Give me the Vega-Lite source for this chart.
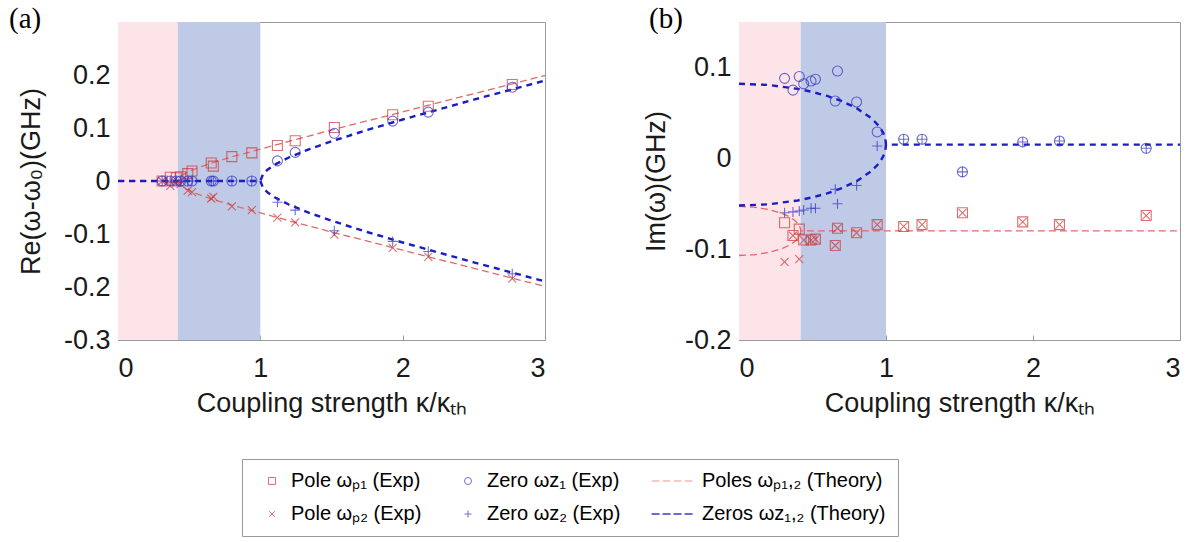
{
  "$schema": "https://vega.github.io/schema/vega-lite/v6.json",
  "background": "white",
  "padding": {"left": 8, "top": 4, "right": 5, "bottom": 0},
  "config": {
    "font": "Liberation Sans",
    "view": {"stroke": "#9a9a9a", "strokeWidth": 1},
    "axis": {
      "grid": false,
      "domainColor": "#9a9a9a",
      "tickColor": "#9a9a9a",
      "tickSize": -5,
      "labelFont": "Liberation Sans",
      "labelFontSize": 27,
      "labelColor": "#1a1a1a",
      "titleFont": "Liberation Sans",
      "titleFontSize": 27,
      "titleFontWeight": "normal",
      "titleColor": "#1a1a1a"
    }
  },
  "datasets": {
    "shade": [
      {"zone": "pt", "k1": 0, "k2": 0.42},
      {"zone": "mid", "k1": 0.42, "k2": 1.0}
    ],
    "theory": [
      {"p": "a", "c": "pole", "b": "up", "k": 0, "v": 0},
      {"p": "a", "c": "pole", "b": "up", "k": 0.42, "v": 0},
      {"p": "a", "c": "pole", "b": "up", "k": 0.43, "v": 0.0062},
      {"p": "a", "c": "pole", "b": "up", "k": 0.45, "v": 0.0108},
      {"p": "a", "c": "pole", "b": "up", "k": 0.5, "v": 0.0182},
      {"p": "a", "c": "pole", "b": "up", "k": 0.6, "v": 0.0287},
      {"p": "a", "c": "pole", "b": "up", "k": 0.7, "v": 0.0375},
      {"p": "a", "c": "pole", "b": "up", "k": 0.8, "v": 0.0456},
      {"p": "a", "c": "pole", "b": "up", "k": 1.0, "v": 0.0600},
      {"p": "a", "c": "pole", "b": "up", "k": 1.2, "v": 0.0748},
      {"p": "a", "c": "pole", "b": "up", "k": 1.5, "v": 0.0962},
      {"p": "a", "c": "pole", "b": "up", "k": 2.0, "v": 0.1305},
      {"p": "a", "c": "pole", "b": "up", "k": 2.5, "v": 0.1648},
      {"p": "a", "c": "pole", "b": "up", "k": 3.0, "v": 0.1990},
      {"p": "a", "c": "pole", "b": "dn", "k": 0.42, "v": 0},
      {"p": "a", "c": "pole", "b": "dn", "k": 0.43, "v": -0.0062},
      {"p": "a", "c": "pole", "b": "dn", "k": 0.45, "v": -0.0108},
      {"p": "a", "c": "pole", "b": "dn", "k": 0.5, "v": -0.0182},
      {"p": "a", "c": "pole", "b": "dn", "k": 0.6, "v": -0.0287},
      {"p": "a", "c": "pole", "b": "dn", "k": 0.7, "v": -0.0375},
      {"p": "a", "c": "pole", "b": "dn", "k": 0.8, "v": -0.0456},
      {"p": "a", "c": "pole", "b": "dn", "k": 1.0, "v": -0.0600},
      {"p": "a", "c": "pole", "b": "dn", "k": 1.2, "v": -0.0748},
      {"p": "a", "c": "pole", "b": "dn", "k": 1.5, "v": -0.0962},
      {"p": "a", "c": "pole", "b": "dn", "k": 2.0, "v": -0.1305},
      {"p": "a", "c": "pole", "b": "dn", "k": 2.5, "v": -0.1648},
      {"p": "a", "c": "pole", "b": "dn", "k": 3.0, "v": -0.1990},
      {"p": "a", "c": "zero", "b": "up", "k": 0, "v": 0},
      {"p": "a", "c": "zero", "b": "up", "k": 1.0, "v": 0},
      {"p": "a", "c": "zero", "b": "up", "k": 1.02, "v": 0.0135},
      {"p": "a", "c": "zero", "b": "up", "k": 1.05, "v": 0.0214},
      {"p": "a", "c": "zero", "b": "up", "k": 1.1, "v": 0.0307},
      {"p": "a", "c": "zero", "b": "up", "k": 1.2, "v": 0.0444},
      {"p": "a", "c": "zero", "b": "up", "k": 1.35, "v": 0.0608},
      {"p": "a", "c": "zero", "b": "up", "k": 1.5, "v": 0.0749},
      {"p": "a", "c": "zero", "b": "up", "k": 1.75, "v": 0.0962},
      {"p": "a", "c": "zero", "b": "up", "k": 2.0, "v": 0.1160},
      {"p": "a", "c": "zero", "b": "up", "k": 2.5, "v": 0.1535},
      {"p": "a", "c": "zero", "b": "up", "k": 3.0, "v": 0.1895},
      {"p": "a", "c": "zero", "b": "dn", "k": 1.0, "v": 0},
      {"p": "a", "c": "zero", "b": "dn", "k": 1.02, "v": -0.0135},
      {"p": "a", "c": "zero", "b": "dn", "k": 1.05, "v": -0.0214},
      {"p": "a", "c": "zero", "b": "dn", "k": 1.1, "v": -0.0307},
      {"p": "a", "c": "zero", "b": "dn", "k": 1.2, "v": -0.0444},
      {"p": "a", "c": "zero", "b": "dn", "k": 1.35, "v": -0.0608},
      {"p": "a", "c": "zero", "b": "dn", "k": 1.5, "v": -0.0749},
      {"p": "a", "c": "zero", "b": "dn", "k": 1.75, "v": -0.0962},
      {"p": "a", "c": "zero", "b": "dn", "k": 2.0, "v": -0.1160},
      {"p": "a", "c": "zero", "b": "dn", "k": 2.5, "v": -0.1535},
      {"p": "a", "c": "zero", "b": "dn", "k": 3.0, "v": -0.1895},
      {"p": "b", "c": "zero", "b": "up", "k": 0, "v": 0.082},
      {"p": "b", "c": "zero", "b": "up", "k": 0.2, "v": 0.0807},
      {"p": "b", "c": "zero", "b": "up", "k": 0.4, "v": 0.0764},
      {"p": "b", "c": "zero", "b": "up", "k": 0.5, "v": 0.073},
      {"p": "b", "c": "zero", "b": "up", "k": 0.6, "v": 0.0686},
      {"p": "b", "c": "zero", "b": "up", "k": 0.7, "v": 0.0628},
      {"p": "b", "c": "zero", "b": "up", "k": 0.8, "v": 0.0552},
      {"p": "b", "c": "zero", "b": "up", "k": 0.9, "v": 0.0442},
      {"p": "b", "c": "zero", "b": "up", "k": 0.95, "v": 0.0359},
      {"p": "b", "c": "zero", "b": "up", "k": 0.98, "v": 0.0283},
      {"p": "b", "c": "zero", "b": "up", "k": 0.995, "v": 0.0217},
      {"p": "b", "c": "zero", "b": "up", "k": 1.0, "v": 0.015},
      {"p": "b", "c": "zero", "b": "up", "k": 3.0, "v": 0.015},
      {"p": "b", "c": "zero", "b": "dn", "k": 0, "v": -0.052},
      {"p": "b", "c": "zero", "b": "dn", "k": 0.2, "v": -0.0507},
      {"p": "b", "c": "zero", "b": "dn", "k": 0.4, "v": -0.0464},
      {"p": "b", "c": "zero", "b": "dn", "k": 0.5, "v": -0.043},
      {"p": "b", "c": "zero", "b": "dn", "k": 0.6, "v": -0.0386},
      {"p": "b", "c": "zero", "b": "dn", "k": 0.7, "v": -0.0328},
      {"p": "b", "c": "zero", "b": "dn", "k": 0.8, "v": -0.0252},
      {"p": "b", "c": "zero", "b": "dn", "k": 0.9, "v": -0.0142},
      {"p": "b", "c": "zero", "b": "dn", "k": 0.95, "v": -0.0059},
      {"p": "b", "c": "zero", "b": "dn", "k": 0.98, "v": 0.0017},
      {"p": "b", "c": "zero", "b": "dn", "k": 0.995, "v": 0.0083},
      {"p": "b", "c": "zero", "b": "dn", "k": 1.0, "v": 0.015},
      {"p": "b", "c": "pole", "b": "up", "k": 0, "v": -0.053},
      {"p": "b", "c": "pole", "b": "up", "k": 0.1, "v": -0.0538},
      {"p": "b", "c": "pole", "b": "up", "k": 0.2, "v": -0.0563},
      {"p": "b", "c": "pole", "b": "up", "k": 0.3, "v": -0.0611},
      {"p": "b", "c": "pole", "b": "up", "k": 0.35, "v": -0.065},
      {"p": "b", "c": "pole", "b": "up", "k": 0.38, "v": -0.0685},
      {"p": "b", "c": "pole", "b": "up", "k": 0.4, "v": -0.0718},
      {"p": "b", "c": "pole", "b": "up", "k": 0.41, "v": -0.0741},
      {"p": "b", "c": "pole", "b": "up", "k": 0.418, "v": -0.0775},
      {"p": "b", "c": "pole", "b": "up", "k": 0.42, "v": -0.080},
      {"p": "b", "c": "pole", "b": "up", "k": 3.0, "v": -0.080},
      {"p": "b", "c": "pole", "b": "dn", "k": 0, "v": -0.107},
      {"p": "b", "c": "pole", "b": "dn", "k": 0.1, "v": -0.1062},
      {"p": "b", "c": "pole", "b": "dn", "k": 0.2, "v": -0.1037},
      {"p": "b", "c": "pole", "b": "dn", "k": 0.3, "v": -0.0989},
      {"p": "b", "c": "pole", "b": "dn", "k": 0.35, "v": -0.095},
      {"p": "b", "c": "pole", "b": "dn", "k": 0.38, "v": -0.0915},
      {"p": "b", "c": "pole", "b": "dn", "k": 0.4, "v": -0.0882},
      {"p": "b", "c": "pole", "b": "dn", "k": 0.41, "v": -0.0859},
      {"p": "b", "c": "pole", "b": "dn", "k": 0.418, "v": -0.0825},
      {"p": "b", "c": "pole", "b": "dn", "k": 0.42, "v": -0.080}
    ],
    "exp": [
      {"p": "a", "s": "Pole ωₚ₁ (Exp)", "k": 0.31, "v": 0.0},
      {"p": "a", "s": "Pole ωₚ₁ (Exp)", "k": 0.367, "v": 0.007},
      {"p": "a", "s": "Pole ωₚ₁ (Exp)", "k": 0.41, "v": 0.006},
      {"p": "a", "s": "Pole ωₚ₁ (Exp)", "k": 0.44, "v": 0.008},
      {"p": "a", "s": "Pole ωₚ₁ (Exp)", "k": 0.49, "v": 0.014},
      {"p": "a", "s": "Pole ωₚ₁ (Exp)", "k": 0.52, "v": 0.019},
      {"p": "a", "s": "Pole ωₚ₁ (Exp)", "k": 0.655, "v": 0.034},
      {"p": "a", "s": "Pole ωₚ₁ (Exp)", "k": 0.67, "v": 0.028},
      {"p": "a", "s": "Pole ωₚ₁ (Exp)", "k": 0.8, "v": 0.046},
      {"p": "a", "s": "Pole ωₚ₁ (Exp)", "k": 0.94, "v": 0.053},
      {"p": "a", "s": "Pole ωₚ₁ (Exp)", "k": 1.12, "v": 0.067},
      {"p": "a", "s": "Pole ωₚ₁ (Exp)", "k": 1.245, "v": 0.076},
      {"p": "a", "s": "Pole ωₚ₁ (Exp)", "k": 1.52, "v": 0.101},
      {"p": "a", "s": "Pole ωₚ₁ (Exp)", "k": 1.93, "v": 0.125},
      {"p": "a", "s": "Pole ωₚ₁ (Exp)", "k": 2.18, "v": 0.141},
      {"p": "a", "s": "Pole ωₚ₁ (Exp)", "k": 2.77, "v": 0.182},
      {"p": "a", "s": "Pole ωₚ₂ (Exp)", "k": 0.31, "v": 0.0},
      {"p": "a", "s": "Pole ωₚ₂ (Exp)", "k": 0.367, "v": -0.009},
      {"p": "a", "s": "Pole ωₚ₂ (Exp)", "k": 0.41, "v": -0.004},
      {"p": "a", "s": "Pole ωₚ₂ (Exp)", "k": 0.44, "v": -0.006},
      {"p": "a", "s": "Pole ωₚ₂ (Exp)", "k": 0.49, "v": -0.018},
      {"p": "a", "s": "Pole ωₚ₂ (Exp)", "k": 0.52, "v": -0.021},
      {"p": "a", "s": "Pole ωₚ₂ (Exp)", "k": 0.655, "v": -0.033},
      {"p": "a", "s": "Pole ωₚ₂ (Exp)", "k": 0.67, "v": -0.030},
      {"p": "a", "s": "Pole ωₚ₂ (Exp)", "k": 0.8, "v": -0.048},
      {"p": "a", "s": "Pole ωₚ₂ (Exp)", "k": 0.94, "v": -0.055},
      {"p": "a", "s": "Pole ωₚ₂ (Exp)", "k": 1.12, "v": -0.069},
      {"p": "a", "s": "Pole ωₚ₂ (Exp)", "k": 1.245, "v": -0.078},
      {"p": "a", "s": "Pole ωₚ₂ (Exp)", "k": 1.52, "v": -0.101},
      {"p": "a", "s": "Pole ωₚ₂ (Exp)", "k": 1.93, "v": -0.126},
      {"p": "a", "s": "Pole ωₚ₂ (Exp)", "k": 2.18, "v": -0.143},
      {"p": "a", "s": "Pole ωₚ₂ (Exp)", "k": 2.77, "v": -0.184},
      {"p": "a", "s": "Zero ωz₁ (Exp)", "k": 0.31, "v": 0},
      {"p": "a", "s": "Zero ωz₁ (Exp)", "k": 0.367, "v": 0},
      {"p": "a", "s": "Zero ωz₁ (Exp)", "k": 0.41, "v": 0},
      {"p": "a", "s": "Zero ωz₁ (Exp)", "k": 0.44, "v": 0},
      {"p": "a", "s": "Zero ωz₁ (Exp)", "k": 0.49, "v": 0},
      {"p": "a", "s": "Zero ωz₁ (Exp)", "k": 0.52, "v": 0},
      {"p": "a", "s": "Zero ωz₁ (Exp)", "k": 0.655, "v": 0},
      {"p": "a", "s": "Zero ωz₁ (Exp)", "k": 0.67, "v": 0},
      {"p": "a", "s": "Zero ωz₁ (Exp)", "k": 0.8, "v": 0},
      {"p": "a", "s": "Zero ωz₁ (Exp)", "k": 0.94, "v": 0},
      {"p": "a", "s": "Zero ωz₁ (Exp)", "k": 1.12, "v": 0.038},
      {"p": "a", "s": "Zero ωz₁ (Exp)", "k": 1.245, "v": 0.054},
      {"p": "a", "s": "Zero ωz₁ (Exp)", "k": 1.52, "v": 0.090},
      {"p": "a", "s": "Zero ωz₁ (Exp)", "k": 1.93, "v": 0.113},
      {"p": "a", "s": "Zero ωz₁ (Exp)", "k": 2.18, "v": 0.130},
      {"p": "a", "s": "Zero ωz₁ (Exp)", "k": 2.77, "v": 0.177},
      {"p": "a", "s": "Zero ωz₂ (Exp)", "k": 0.31, "v": 0},
      {"p": "a", "s": "Zero ωz₂ (Exp)", "k": 0.367, "v": 0},
      {"p": "a", "s": "Zero ωz₂ (Exp)", "k": 0.41, "v": 0},
      {"p": "a", "s": "Zero ωz₂ (Exp)", "k": 0.44, "v": 0},
      {"p": "a", "s": "Zero ωz₂ (Exp)", "k": 0.49, "v": 0},
      {"p": "a", "s": "Zero ωz₂ (Exp)", "k": 0.52, "v": 0},
      {"p": "a", "s": "Zero ωz₂ (Exp)", "k": 0.655, "v": 0},
      {"p": "a", "s": "Zero ωz₂ (Exp)", "k": 0.67, "v": 0},
      {"p": "a", "s": "Zero ωz₂ (Exp)", "k": 0.8, "v": 0},
      {"p": "a", "s": "Zero ωz₂ (Exp)", "k": 0.94, "v": 0},
      {"p": "a", "s": "Zero ωz₂ (Exp)", "k": 1.12, "v": -0.040},
      {"p": "a", "s": "Zero ωz₂ (Exp)", "k": 1.245, "v": -0.055},
      {"p": "a", "s": "Zero ωz₂ (Exp)", "k": 1.52, "v": -0.094},
      {"p": "a", "s": "Zero ωz₂ (Exp)", "k": 1.93, "v": -0.114},
      {"p": "a", "s": "Zero ωz₂ (Exp)", "k": 2.18, "v": -0.133},
      {"p": "a", "s": "Zero ωz₂ (Exp)", "k": 2.77, "v": -0.175},
      {"p": "b", "s": "Zero ωz₁ (Exp)", "k": 0.31, "v": 0.088},
      {"p": "b", "s": "Zero ωz₁ (Exp)", "k": 0.367, "v": 0.075},
      {"p": "b", "s": "Zero ωz₁ (Exp)", "k": 0.41, "v": 0.090},
      {"p": "b", "s": "Zero ωz₁ (Exp)", "k": 0.44, "v": 0.082},
      {"p": "b", "s": "Zero ωz₁ (Exp)", "k": 0.49, "v": 0.085},
      {"p": "b", "s": "Zero ωz₁ (Exp)", "k": 0.52, "v": 0.087},
      {"p": "b", "s": "Zero ωz₁ (Exp)", "k": 0.655, "v": 0.063},
      {"p": "b", "s": "Zero ωz₁ (Exp)", "k": 0.67, "v": 0.096},
      {"p": "b", "s": "Zero ωz₁ (Exp)", "k": 0.8, "v": 0.062},
      {"p": "b", "s": "Zero ωz₁ (Exp)", "k": 0.94, "v": 0.029},
      {"p": "b", "s": "Zero ωz₁ (Exp)", "k": 1.12, "v": 0.021},
      {"p": "b", "s": "Zero ωz₁ (Exp)", "k": 1.245, "v": 0.021},
      {"p": "b", "s": "Zero ωz₁ (Exp)", "k": 1.52, "v": -0.015},
      {"p": "b", "s": "Zero ωz₁ (Exp)", "k": 1.93, "v": 0.018},
      {"p": "b", "s": "Zero ωz₁ (Exp)", "k": 2.18, "v": 0.019},
      {"p": "b", "s": "Zero ωz₁ (Exp)", "k": 2.77, "v": 0.011},
      {"p": "b", "s": "Zero ωz₂ (Exp)", "k": 0.31, "v": -0.060},
      {"p": "b", "s": "Zero ωz₂ (Exp)", "k": 0.367, "v": -0.059},
      {"p": "b", "s": "Zero ωz₂ (Exp)", "k": 0.41, "v": -0.058},
      {"p": "b", "s": "Zero ωz₂ (Exp)", "k": 0.44, "v": -0.057},
      {"p": "b", "s": "Zero ωz₂ (Exp)", "k": 0.49, "v": -0.055},
      {"p": "b", "s": "Zero ωz₂ (Exp)", "k": 0.52, "v": -0.055},
      {"p": "b", "s": "Zero ωz₂ (Exp)", "k": 0.655, "v": -0.034},
      {"p": "b", "s": "Zero ωz₂ (Exp)", "k": 0.67, "v": -0.050},
      {"p": "b", "s": "Zero ωz₂ (Exp)", "k": 0.8, "v": -0.030},
      {"p": "b", "s": "Zero ωz₂ (Exp)", "k": 0.94, "v": 0.0135},
      {"p": "b", "s": "Zero ωz₂ (Exp)", "k": 1.12, "v": 0.021},
      {"p": "b", "s": "Zero ωz₂ (Exp)", "k": 1.245, "v": 0.021},
      {"p": "b", "s": "Zero ωz₂ (Exp)", "k": 1.52, "v": -0.015},
      {"p": "b", "s": "Zero ωz₂ (Exp)", "k": 1.93, "v": 0.018},
      {"p": "b", "s": "Zero ωz₂ (Exp)", "k": 2.18, "v": 0.019},
      {"p": "b", "s": "Zero ωz₂ (Exp)", "k": 2.77, "v": 0.011},
      {"p": "b", "s": "Pole ωₚ₁ (Exp)", "k": 0.31, "v": -0.071},
      {"p": "b", "s": "Pole ωₚ₁ (Exp)", "k": 0.367, "v": -0.085},
      {"p": "b", "s": "Pole ωₚ₁ (Exp)", "k": 0.41, "v": -0.078},
      {"p": "b", "s": "Pole ωₚ₁ (Exp)", "k": 0.44, "v": -0.090},
      {"p": "b", "s": "Pole ωₚ₁ (Exp)", "k": 0.49, "v": -0.090},
      {"p": "b", "s": "Pole ωₚ₁ (Exp)", "k": 0.52, "v": -0.089},
      {"p": "b", "s": "Pole ωₚ₁ (Exp)", "k": 0.655, "v": -0.096},
      {"p": "b", "s": "Pole ωₚ₁ (Exp)", "k": 0.67, "v": -0.077},
      {"p": "b", "s": "Pole ωₚ₁ (Exp)", "k": 0.8, "v": -0.082},
      {"p": "b", "s": "Pole ωₚ₁ (Exp)", "k": 0.94, "v": -0.073},
      {"p": "b", "s": "Pole ωₚ₁ (Exp)", "k": 1.12, "v": -0.075},
      {"p": "b", "s": "Pole ωₚ₁ (Exp)", "k": 1.245, "v": -0.073},
      {"p": "b", "s": "Pole ωₚ₁ (Exp)", "k": 1.52, "v": -0.060},
      {"p": "b", "s": "Pole ωₚ₁ (Exp)", "k": 1.93, "v": -0.070},
      {"p": "b", "s": "Pole ωₚ₁ (Exp)", "k": 2.18, "v": -0.073},
      {"p": "b", "s": "Pole ωₚ₁ (Exp)", "k": 2.77, "v": -0.063},
      {"p": "b", "s": "Pole ωₚ₂ (Exp)", "k": 0.31, "v": -0.114},
      {"p": "b", "s": "Pole ωₚ₂ (Exp)", "k": 0.367, "v": -0.085},
      {"p": "b", "s": "Pole ωₚ₂ (Exp)", "k": 0.41, "v": -0.111},
      {"p": "b", "s": "Pole ωₚ₂ (Exp)", "k": 0.44, "v": -0.090},
      {"p": "b", "s": "Pole ωₚ₂ (Exp)", "k": 0.49, "v": -0.090},
      {"p": "b", "s": "Pole ωₚ₂ (Exp)", "k": 0.52, "v": -0.089},
      {"p": "b", "s": "Pole ωₚ₂ (Exp)", "k": 0.655, "v": -0.096},
      {"p": "b", "s": "Pole ωₚ₂ (Exp)", "k": 0.67, "v": -0.077},
      {"p": "b", "s": "Pole ωₚ₂ (Exp)", "k": 0.8, "v": -0.082},
      {"p": "b", "s": "Pole ωₚ₂ (Exp)", "k": 0.94, "v": -0.073},
      {"p": "b", "s": "Pole ωₚ₂ (Exp)", "k": 1.12, "v": -0.075},
      {"p": "b", "s": "Pole ωₚ₂ (Exp)", "k": 1.245, "v": -0.073},
      {"p": "b", "s": "Pole ωₚ₂ (Exp)", "k": 1.52, "v": -0.060},
      {"p": "b", "s": "Pole ωₚ₂ (Exp)", "k": 1.93, "v": -0.070},
      {"p": "b", "s": "Pole ωₚ₂ (Exp)", "k": 2.18, "v": -0.073},
      {"p": "b", "s": "Pole ωₚ₂ (Exp)", "k": 2.77, "v": -0.063}
    ]
  },
  "spacing": 90,
  "hconcat": [
    {
      "width": 427,
      "height": 318,
      "title": {"text": "(a)", "anchor": "start", "frame": "group", "font": "Liberation Serif", "fontSize": 29, "fontWeight": "normal", "color": "#000", "dx": -109, "offset": -12},
      "layer": [
        {
          "data": {"name": "shade"},
          "mark": {"type": "rect"},
          "encoding": {
            "x": {"field": "k1", "type": "quantitative", "scale": {"domain": [0, 3], "padding": 0, "nice": false}},
            "x2": {"field": "k2"},
            "fill": {"field": "zone", "type": "nominal", "scale": {"domain": ["pt", "mid"], "range": ["#fde4e9", "#bfcbe6"]}, "legend": null}
          }
        },
        {
          "data": {"name": "theory"},
          "transform": [{"filter": "datum.p == 'a' && datum.c == 'pole'"}],
          "mark": {"type": "line", "color": "#e06a6a", "strokeWidth": 1.3, "strokeDash": [7, 4]},
          "encoding": {
            "x": {"field": "k", "type": "quantitative"},
            "y": {"field": "v", "type": "quantitative"},
            "detail": {"field": "b"}
          }
        },
        {
          "data": {"name": "theory"},
          "transform": [{"filter": "datum.p == 'a' && datum.c == 'zero'"}],
          "mark": {"type": "line", "color": "#1c1cc4", "strokeWidth": 2.4, "strokeDash": [6, 5]},
          "encoding": {
            "x": {"field": "k", "type": "quantitative"},
            "y": {"field": "v", "type": "quantitative"},
            "detail": {"field": "b"}
          }
        },
        {
          "data": {"name": "exp"},
          "transform": [{"filter": "datum.p == 'a'"}],
          "mark": {"type": "point", "filled": false, "size": 100, "strokeWidth": 1.1},
          "encoding": {
            "x": {"field": "k", "type": "quantitative", "scale": {"domain": [0, 3], "padding": 0, "nice": false}, "axis": {"values": [0, 1, 2, 3], "format": "d", "title": "Coupling strength κ/κₜₕ", "labelPadding": 20, "titlePadding": 9}},
            "y": {"field": "v", "type": "quantitative", "scale": {"domain": [-0.3, 0.3], "nice": false, "padding": 0}, "axis": {"values": [-0.3, -0.2, -0.1, 0, 0.1, 0.2], "format": "~g", "title": "Re(ω-ω₀)(GHz)", "labelPadding": 13, "titlePadding": 18, "labelExpr": "replace(datum.label, '−', '-')"}},
            "color": {
              "field": "s", "type": "nominal",
              "scale": {
                "domain": ["Pole ωₚ₁ (Exp)", "Pole ωₚ₂ (Exp)", "Zero ωz₁ (Exp)", "Zero ωz₂ (Exp)", "Poles ωₚ₁,₂ (Theory)", "Zeros ωz₁,₂ (Theory)"],
                "range": ["#cc3535", "#cc3535", "#3030c4", "#3030c4", "#e06a6a", "#1c1cc4"]
              },
              "legend": {"title": null, "orient": "none", "legendX": 124, "legendY": 437, "columns": 3, "symbolSize": 49, "symbolStrokeWidth": 1, "symbolOffset": 8, "labelFont": "Liberation Sans", "labelFontSize": 20, "labelColor": "#000", "labelOffset": 9, "labelLimit": 400, "strokeColor": "#999", "fillColor": "white", "padding": 12, "rowPadding": 13, "columnPadding": 28}
            },
            "shape": {
              "field": "s", "type": "nominal",
              "scale": {
                "domain": ["Pole ωₚ₁ (Exp)", "Pole ωₚ₂ (Exp)", "Zero ωz₁ (Exp)", "Zero ωz₂ (Exp)", "Poles ωₚ₁,₂ (Theory)", "Zeros ωz₁,₂ (Theory)"],
                "range": ["square", "M-0.8,-0.8L0.8,0.8M-0.8,0.8L0.8,-0.8", "circle", "M-1,0L1,0M0,-1L0,1", "M-8.9,0H-6.76M-5.76,0H-3.62M-2.62,0H-0.48M0.52,0H2.66", "M-8.9,-0.12H-6.76V0.12H-8.9ZM-5.76,-0.12H-3.62V0.12H-5.76ZM-2.62,-0.12H-0.48V0.12H-2.62ZM0.52,-0.12H2.66V0.12H0.52Z"]
              },
              "legend": {"title": null, "orient": "none", "legendX": 124, "legendY": 437, "columns": 3, "symbolSize": 49, "symbolStrokeWidth": 1, "symbolOffset": 8, "labelFont": "Liberation Sans", "labelFontSize": 20, "labelColor": "#000", "labelOffset": 9, "labelLimit": 400, "strokeColor": "#999", "fillColor": "white", "padding": 12, "rowPadding": 13, "columnPadding": 28}
            }
          }
        }
      ]
    },
    {
      "width": 441,
      "height": 318,
      "title": {"text": "(b)", "anchor": "start", "frame": "group", "font": "Liberation Serif", "fontSize": 29, "fontWeight": "normal", "color": "#000", "dx": -90, "offset": -12},
      "layer": [
        {
          "data": {"name": "shade"},
          "mark": {"type": "rect"},
          "encoding": {
            "x": {"field": "k1", "type": "quantitative", "scale": {"domain": [0, 3], "padding": 0, "nice": false}},
            "x2": {"field": "k2"},
            "fill": {"field": "zone", "type": "nominal", "scale": {"domain": ["pt", "mid"], "range": ["#fde4e9", "#bfcbe6"]}, "legend": null}
          }
        },
        {
          "data": {"name": "theory"},
          "transform": [{"filter": "datum.p == 'b' && datum.c == 'pole'"}],
          "mark": {"type": "line", "color": "#e06a6a", "strokeWidth": 1.3, "strokeDash": [7, 4]},
          "encoding": {
            "x": {"field": "k", "type": "quantitative"},
            "y": {"field": "v", "type": "quantitative"},
            "detail": {"field": "b"}
          }
        },
        {
          "data": {"name": "theory"},
          "transform": [{"filter": "datum.p == 'b' && datum.c == 'zero'"}],
          "mark": {"type": "line", "color": "#1c1cc4", "strokeWidth": 2.4, "strokeDash": [6, 5]},
          "encoding": {
            "x": {"field": "k", "type": "quantitative"},
            "y": {"field": "v", "type": "quantitative"},
            "detail": {"field": "b"}
          }
        },
        {
          "data": {"name": "exp"},
          "transform": [{"filter": "datum.p == 'b'"}],
          "mark": {"type": "point", "filled": false, "size": 100, "strokeWidth": 1.1},
          "encoding": {
            "x": {"field": "k", "type": "quantitative", "scale": {"domain": [0, 3], "padding": 0, "nice": false}, "axis": {"values": [0, 1, 2, 3], "format": "d", "title": "Coupling strength κ/κₜₕ", "labelPadding": 20, "titlePadding": 9}},
            "y": {"field": "v", "type": "quantitative", "scale": {"domain": [-0.2, 0.15], "nice": false, "padding": 0}, "axis": {"values": [-0.2, -0.1, 0, 0.1], "format": "~g", "title": "Im(ω)(GHz)", "labelPadding": 13, "titlePadding": 14, "labelExpr": "replace(datum.label, '−', '-')"}},
            "color": {
              "field": "s", "type": "nominal",
              "scale": {
                "domain": ["Pole ωₚ₁ (Exp)", "Pole ωₚ₂ (Exp)", "Zero ωz₁ (Exp)", "Zero ωz₂ (Exp)", "Poles ωₚ₁,₂ (Theory)", "Zeros ωz₁,₂ (Theory)"],
                "range": ["#cc3535", "#cc3535", "#3030c4", "#3030c4", "#e06a6a", "#1c1cc4"]
              },
              "legend": {"title": null, "orient": "none", "legendX": 124, "legendY": 437, "columns": 3, "symbolSize": 49, "symbolStrokeWidth": 1, "symbolOffset": 8, "labelFont": "Liberation Sans", "labelFontSize": 20, "labelColor": "#000", "labelOffset": 9, "labelLimit": 400, "strokeColor": "#999", "fillColor": "white", "padding": 12, "rowPadding": 13, "columnPadding": 28}
            },
            "shape": {
              "field": "s", "type": "nominal",
              "scale": {
                "domain": ["Pole ωₚ₁ (Exp)", "Pole ωₚ₂ (Exp)", "Zero ωz₁ (Exp)", "Zero ωz₂ (Exp)", "Poles ωₚ₁,₂ (Theory)", "Zeros ωz₁,₂ (Theory)"],
                "range": ["square", "M-0.8,-0.8L0.8,0.8M-0.8,0.8L0.8,-0.8", "circle", "M-1,0L1,0M0,-1L0,1", "M-8.9,0H-6.76M-5.76,0H-3.62M-2.62,0H-0.48M0.52,0H2.66", "M-8.9,-0.12H-6.76V0.12H-8.9ZM-5.76,-0.12H-3.62V0.12H-5.76ZM-2.62,-0.12H-0.48V0.12H-2.62ZM0.52,-0.12H2.66V0.12H0.52Z"]
              },
              "legend": {"title": null, "orient": "none", "legendX": 124, "legendY": 437, "columns": 3, "symbolSize": 49, "symbolStrokeWidth": 1, "symbolOffset": 8, "labelFont": "Liberation Sans", "labelFontSize": 20, "labelColor": "#000", "labelOffset": 9, "labelLimit": 400, "strokeColor": "#999", "fillColor": "white", "padding": 12, "rowPadding": 13, "columnPadding": 28}
            }
          }
        }
      ]
    }
  ]
}
